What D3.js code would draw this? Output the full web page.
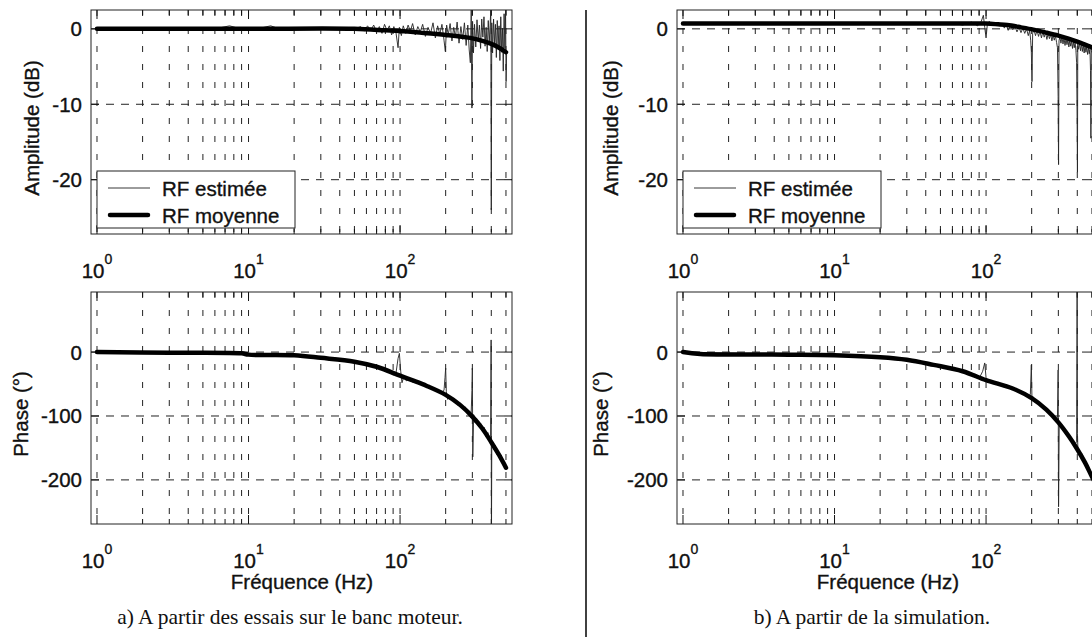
<!DOCTYPE html>
<html><head><meta charset="utf-8">
<script src="https://cdn.jsdelivr.net/npm/d3@7"></script>
<style>
html,body{margin:0;padding:0;background:#fff;}
svg{display:block;}
.ax{font-family:"Liberation Sans",Arial,sans-serif;font-size:20.5px;fill:#111;stroke:#111;stroke-width:0.35px;}
.cap{font-family:"Liberation Serif","Times New Roman",serif;font-size:21.5px;fill:#111;}
</style></head>
<body>
<script>
// ---------------- data ----------------
const yTicksAmp = [0, -10, -20];
const yTicksPhase = [0, -100, -200];
const xDecades = [1, 10, 100];
const xDecadeExp = ["0", "1", "2"];
const legendLabels = ["RF estimée", "RF moyenne"];
const captions = ["a) A partir des essais sur le banc moteur.", "b) A partir de la simulation."];

// Panel a) : mean curves
const freqMeanAmpA = [1, 10, 50, 80, 100, 135, 200, 290, 350, 400, 450, 500];
const ampMeanA     = [0, 0, 0, -0.2, -0.3, -0.5, -0.8, -1.2, -1.6, -2.0, -2.5, -3.1];
const freqMeanPhA  = [1, 3, 9, 10, 20, 30, 50, 70, 100, 120, 150, 200, 250, 300, 350, 400, 450, 500];
const phaseMeanA   = [0, -1, -2, -4, -5, -9, -15, -23, -37, -44, -53, -67, -83, -101, -120, -141, -161, -181];

// Panel a) : estimated curves
const freqEstAmpA = [1, 2, 4, 6, 7.5, 8.5, 9.5, 12, 14, 16, 20, 30, 40, 50, 55, 58, 61, 64, 67, 70,
  73, 76, 79, 82, 85, 88, 91, 94, 97, 99, 102, 105, 109, 113, 117, 121, 126, 131, 136, 141,
  147, 153, 159, 165, 171, 177, 183, 189, 195, 199, 203, 208, 214, 220, 226, 232, 238, 245, 252, 259,
  266, 273, 280, 286, 291, 295, 298, 301, 305, 310, 316, 322, 328, 334, 340, 346, 352, 358, 364, 370,
  376, 382, 388, 393, 397, 400, 403, 408, 414, 420, 426, 432, 438, 444, 450, 456, 462, 468, 474, 480,
  486, 492, 497, 501, 505];
const ampEstA = [0.1, 0.0, 0.1, 0.0, 0.4, 0.1, 0.0, 0.1, 0.4, 0.0, 0.1, 0.0, 0.1, 0.0, 0.3, -0.3, 0.4, -0.2, 0.5, -0.4,
  0.3, -0.6, 0.6, -0.2, 0.4, -0.8, 0.3, -0.5, -2.5, 0.2, -0.9, 0.4, -0.6, 0.5, -0.3, 0.7, -0.8, 0.3, -0.4, 0.6,
  -1.0, 0.2, -0.6, 0.8, -1.2, 0.4, -0.7, 0.6, -1.5, -3.0, 0.5, -0.8, 0.7, -1.6, 0.2, -1.1, 0.9, -1.9, 0.3, -1.4,
  0.8, -2.2, 0.5, -2.8, -4.5, 2.5, -10.5, 1.0, -3.2, 0.6, -2.4, 1.2, -1.6, 0.5, -2.6, 1.3, -1.1, 1.6, -2.3, 0.2,
  -3.0, 1.1, -1.7, 0.4, 2.5, -24.0, 0.8, -3.2, 1.3, -1.9, 0.6, -3.8, 1.1, -2.2, 0.4, -4.2, 1.6, -3.1, 0.1, -5.6,
  2.0, -2.6, 2.5, -7.0, -3.1];
const freqEstPhA = [1, 3, 6, 9.5, 11, 20, 30, 40, 50, 60, 66, 72, 78, 84, 90, 94, 97, 99, 101, 103,
  106, 110, 115, 120, 126, 132, 140, 148, 156, 165, 174, 183, 190, 195, 198, 200, 202, 206, 212, 220,
  230, 240, 250, 260, 270, 280, 288, 294, 298, 300, 302, 306, 312, 320, 330, 340, 350, 360, 370, 380,
  390, 396, 399, 401, 403, 407, 415, 425, 435, 445, 455, 465, 475, 485, 495];
const phaseEstA = [1, -1, -2, -2, -4, -5, -9, -12, -15, -19, -23, -24, -29, -31, -36, -33, -10, -2, -30, -48,
  -38, -45, -42, -47, -45, -50, -49, -53, -52, -58, -57, -63, -62, -60, -40, -25, -62, -74, -68, -76,
  -74, -83, -80, -89, -86, -97, -92, -103, -60, -25, -164, -98, -110, -104, -117, -111, -124, -118, -133, -126,
  -141, -132, 19, -300, -150, -140, -152, -146, -160, -155, -167, -161, -176, -172, -180];

// Panel b) : mean curves
const freqMeanAmpB = [1, 10, 50, 100, 120, 138, 170, 205, 250, 300, 350, 400, 450, 490, 520];
const ampMeanB     = [0.7, 0.7, 0.7, 0.7, 0.6, 0.5, 0.2, -0.1, -0.5, -0.9, -1.3, -1.7, -2.1, -2.4, -2.6];
const freqMeanPhB  = [1, 1.3, 5, 10, 20, 30, 45, 70, 100, 150, 200, 250, 300, 350, 400, 450, 500, 530];
const phaseMeanB   = [0, -3, -4, -5, -8, -12, -20, -30, -44, -57, -72, -90, -110, -131, -152, -173, -195, -206];

// Panel b) : estimated curves
const freqEstAmpB = [1, 5, 10, 20, 40, 60, 70, 80, 88, 93, 96, 98, 100, 102, 105, 110, 116, 122, 128, 132,
  136, 140, 145, 150, 155, 160, 165, 170, 175, 180, 185, 190, 194, 197, 199, 201, 203, 207, 212, 217,
  222, 227, 232, 237, 242, 247, 252, 257, 262, 267, 272, 277, 282, 287, 292, 296, 299, 301, 303, 307,
  312, 317, 322, 327, 332, 337, 342, 347, 352, 357, 362, 367, 372, 377, 382, 387, 392, 396, 399, 401,
  403, 408, 414, 420, 426, 432, 438, 444, 450, 456, 462, 468, 474, 480, 485, 489, 492, 495, 500];
const ampEstB = [0.7, 0.7, 0.7, 0.7, 0.7, 0.8, 0.5, 0.9, 0.4, 1.0, 1.8, 0.2, -1.2, 0.6, 1.0, 0.5, 0.8, 0.4, 0.7, 0.1,
  0.6, -0.2, 0.4, -0.1, 0.3, -0.4, 0.2, -0.5, 0.1, -0.6, 0.0, -0.9, -0.2, -1.5, -3.0, -7.0, -0.6, -0.1, -0.9, -0.2,
  -1.0, -0.3, -1.2, -0.4, -1.1, -0.5, -1.4, -0.6, -1.3, -0.7, -1.6, -0.8, -1.5, -0.9, -1.8, -2.5, -9.0, -18.0, -1.6, -1.0,
  -1.9, -1.1, -2.0, -1.2, -2.2, -1.3, -2.1, -1.4, -2.4, -1.5, -2.3, -1.6, -2.6, -1.7, -2.5, -1.8, -2.9, -4.5, -12.0, -19.0,
  -2.0, -2.7, -1.9, -2.9, -2.0, -3.0, -2.1, -3.2, -2.2, -3.1, -2.4, -3.4, -2.5, -3.3, -2.7, -5.5, -14.5, -3.2, -2.8];
const freqEstPhB = [1, 5, 10, 20, 40, 60, 70, 80, 86, 91, 95, 98, 100, 102, 106, 112, 120, 130, 140, 150,
  160, 170, 180, 190, 196, 199, 201, 204, 210, 220, 230, 240, 250, 260, 270, 280, 290, 296, 299, 301,
  304, 310, 320, 330, 340, 350, 360, 370, 380, 390, 396, 399, 401, 404, 410, 420, 430, 440, 450, 460,
  470, 480, 490, 500];
const phaseEstB = [0, -4, -5, -8, -17, -26, -29, -34, -35, -39, -30, -17, -40, -46, -45, -49, -50, -54, -55, -58,
  -60, -65, -66, -70, -66, -20, -75, -70, -76, -78, -83, -85, -89, -95, -97, -104, -105, -102, -28, -242,
  -113, -111, -119, -120, -128, -129, -136, -136, -144, -143, -140, 94, -127, -154, -153, -160, -159, -167, -170, -177,
  -177, -186, -187, -196];

// ---------------- drawing ----------------
const W = 1092, H = 637;
const svg = d3.select("body").append("svg").attr("width", W).attr("height", H);

const panels = [
  {dx: 0, cap: captions[0], capX: 290, ampLblX: 31, phLblX: 20,
   mA: [freqMeanAmpA, ampMeanA], mP: [freqMeanPhA, phaseMeanA], eA: [freqEstAmpA, ampEstA], eP: [freqEstPhA, phaseEstA]},
  {dx: 586, cap: captions[1], capX: 872, ampLblX: 610, phLblX: 600,
   mA: [freqMeanAmpB, ampMeanB], mP: [freqMeanPhB, phaseMeanB], eA: [freqEstAmpB, ampEstB], eP: [freqEstPhB, phaseEstB]}
];

const x0 = 91, x1 = 512;
const plots = [
  {key: "amp", y0: 10, y1: 234, dom: [-27.2, 2.5], ticks: yTicksAmp, label: "Amplitude (dB)", legend: true},
  {key: "ph", y0: 292, y1: 524, dom: [-269, 94], ticks: yTicksPhase, label: "Phase (°)", legend: false}
];

// divider
svg.append("line").attr("x1", 586).attr("x2", 586).attr("y1", 10).attr("y2", H)
  .attr("stroke", "#111").attr("stroke-width", 1.6);

const minorFreqs = [];
[1, 10, 100].forEach(d => { for (let m = 1; m <= 9; m++) minorFreqs.push(m * d); });

panels.forEach((p, pi) => {
  const g = svg.append("g").attr("transform", `translate(${p.dx},0)`);
  const x = d3.scaleLog().domain([0.913, 548]).range([x0, x1]);
  const gridF = minorFreqs.filter(f => x(f) >= x0 && x(f) <= x1);

  plots.forEach((pl, k) => {
    const y = d3.scaleLinear().domain(pl.dom).range([pl.y1, pl.y0]);
    const clipId = `clip${pi}${k}`;
    g.append("clipPath").attr("id", clipId).append("rect")
      .attr("x", x0).attr("y", pl.y0).attr("width", x1 - x0).attr("height", pl.y1 - pl.y0);

    // vertical grid (dashed)
    g.append("g").selectAll("line").data(gridF).join("line")
      .attr("x1", d => x(d)).attr("x2", d => x(d)).attr("y1", pl.y0).attr("y2", pl.y1)
      .attr("stroke", "#222").attr("stroke-width", 1).attr("stroke-dasharray", "6,12");
    // horizontal grid
    g.append("g").selectAll("line").data(pl.ticks).join("line")
      .attr("x1", x0).attr("x2", x1).attr("y1", d => y(d)).attr("y2", d => y(d))
      .attr("stroke", "#222").attr("stroke-width", 1).attr("stroke-dasharray", "8,7");

    // x ticks (top & bottom, inward)
    const xt = g.append("g");
    gridF.forEach(f => {
      const major = xDecades.includes(f);
      const len = major ? 9 : 5;
      xt.append("line").attr("x1", x(f)).attr("x2", x(f)).attr("y1", pl.y1).attr("y2", pl.y1 - len)
        .attr("stroke", "#111").attr("stroke-width", 1);
      xt.append("line").attr("x1", x(f)).attr("x2", x(f)).attr("y1", pl.y0).attr("y2", pl.y0 + len)
        .attr("stroke", "#111").attr("stroke-width", 1);
    });
    // y ticks (left & right, inward)
    pl.ticks.forEach(t => {
      xt.append("line").attr("x1", x0).attr("x2", x0 + 8).attr("y1", y(t)).attr("y2", y(t)).attr("stroke", "#111");
      xt.append("line").attr("x1", x1).attr("x2", x1 - 8).attr("y1", y(t)).attr("y2", y(t)).attr("stroke", "#111");
    });

    // data
    const eData = d3.zip(...(pl.key === "amp" ? p.eA : p.eP));
    const mData = d3.zip(...(pl.key === "amp" ? p.mA : p.mP));
    const dg = g.append("g").attr("clip-path", `url(#${clipId})`);
    dg.append("path").datum(eData)
      .attr("d", d3.line().x(d => x(d[0])).y(d => y(d[1])))
      .attr("fill", "none").attr("stroke", "#222").attr("stroke-width", 0.9);
    dg.append("path").datum(mData)
      .attr("d", d3.line().x(d => x(d[0])).y(d => y(d[1])).curve(d3.curveCatmullRom.alpha(0.5)))
      .attr("fill", "none").attr("stroke", "#000").attr("stroke-width", 4.5)
      .attr("stroke-linecap", "round").attr("stroke-linejoin", "round");

    // frame
    g.append("rect").attr("x", x0).attr("y", pl.y0).attr("width", x1 - x0).attr("height", pl.y1 - pl.y0)
      .attr("fill", "none").attr("stroke", "#222").attr("stroke-width", 1);

    // y tick labels
    g.append("g").selectAll("text").data(pl.ticks).join("text")
      .attr("class", "ax").attr("x", x0 - 9).attr("y", d => y(d))
      .attr("text-anchor", "end").attr("dominant-baseline", "central").text(d => d);

    // x tick labels: 10^k
    xDecades.forEach((f, i) => {
      const t = g.append("text").attr("class", "ax").attr("x", x(f)).attr("y", pl.y1 + 44)
        .attr("text-anchor", "middle");
      t.append("tspan").text("10");
      t.append("tspan").attr("dy", -14).attr("font-size", 14).text(xDecadeExp[i]);
    });

    // y label
    const lx = pl.key === "amp" ? p.ampLblX : p.phLblX;
    g.append("text").attr("class", "ax")
      .attr("transform", `translate(${lx - p.dx},${(pl.y0 + pl.y1) / 2 + 6}) rotate(-90)`)
      .attr("text-anchor", "middle").attr("dominant-baseline", "central").text(pl.label);

    // legend
    if (pl.legend) {
      const lg = g.append("g");
      lg.append("rect").attr("x", 97).attr("y", 171).attr("width", 198).attr("height", 57)
        .attr("fill", "#fff").attr("stroke", "#222").attr("stroke-width", 1);
      const rows = [188, 215];
      lg.append("line").attr("x1", 108).attr("x2", 150).attr("y1", rows[0]).attr("y2", rows[0])
        .attr("stroke", "#222").attr("stroke-width", 0.9);
      lg.append("line").attr("x1", 110).attr("x2", 148).attr("y1", rows[1]).attr("y2", rows[1])
        .attr("stroke", "#000").attr("stroke-width", 4.5).attr("stroke-linecap", "round");
      legendLabels.forEach((s, i) => {
        lg.append("text").attr("class", "ax").attr("x", 162).attr("y", rows[i])
          .attr("dominant-baseline", "central").text(s);
      });
    }
  });

  // x label & caption
  g.append("text").attr("class", "ax").attr("x", 302).attr("y", 589)
    .attr("text-anchor", "middle").text("Fréquence (Hz)");
  g.append("text").attr("class", "cap").attr("x", p.capX - p.dx).attr("y", 624)
    .attr("text-anchor", "middle").text(p.cap);
});
</script>
</body></html>
